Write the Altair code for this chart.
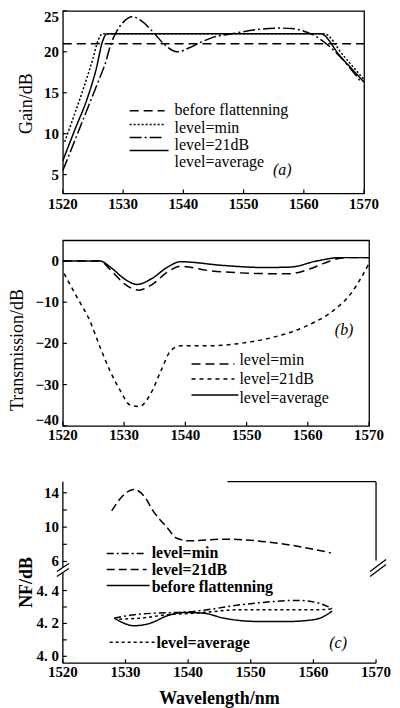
import altair as alt
import pandas as pd

SERIF = "Liberation Serif"

# ---------------- data ----------------
WL_TICKS = [1520, 1530, 1540, 1550, 1560, 1570]

# (a) Gain / dB
A_SERIES = ["before flattenning", "level=min", "level=21dB", "level=average"]
A_W_BEFORE = [1520, 1570]
A_G_BEFORE = [21.0, 21.0]
A_W_MIN = [1520.3, 1522, 1523.5, 1525, 1525.9, 1526.6, 1530, 1540, 1550, 1560, 1563.4, 1566.5, 1570]
A_G_MIN = [9.0, 12.5, 15.7, 19.2, 21.5, 22.2, 22.2, 22.2, 22.2, 22.2, 22.2, 19.6, 16.6]
A_W_21 = [1520, 1522, 1524, 1526, 1527, 1528, 1529, 1530, 1531.5, 1533, 1535, 1537, 1539, 1541,
          1543, 1545, 1548, 1552, 1556, 1558, 1560.5, 1562.2, 1565.5, 1569.4]
A_G_21 = [5.5, 9.2, 12.9, 16.6, 18.5, 21.0, 22.6, 23.6, 24.3, 23.8, 22.4, 20.8, 20.0, 20.5,
          21.2, 21.8, 22.2, 22.7, 22.9, 22.85, 22.4, 21.8, 19.8, 16.4]
A_W_AVG = [1520, 1522, 1524, 1525.5, 1526.6, 1527.3, 1535, 1545, 1555, 1562.8, 1566, 1570]
A_G_AVG = [6.7, 10.5, 14.2, 17.8, 21.3, 22.2, 22.2, 22.2, 22.2, 22.2, 19.5, 16.3]
A_Y_TICKS = [5, 10, 15, 20, 25]

# (b) Transmission / dB
B_SERIES = ["level=min", "level=21dB", "level=average"]
B_W_MIN = [1520, 1526, 1528, 1530, 1532.4, 1534.5, 1537, 1539.2, 1543.6, 1549, 1554.4, 1557,
           1560.4, 1562.6, 1566, 1570]
B_T_MIN = [0, 0, -2.5, -5.5, -7.1, -5.8, -2.8, -1.3, -2.3, -2.9, -3.1, -3.1, -1.9, -0.6, 0.8, 0.8]
B_W_21 = [1520.2, 1522.3, 1524.4, 1526.1, 1527.7, 1529.4, 1531, 1532.5, 1534.3, 1536, 1537.6,
          1539.2, 1543.6, 1549, 1554.4, 1559.9, 1564.2, 1567, 1570]
B_T_21 = [-3.1, -8.8, -14.5, -21.0, -26.7, -31.5, -35.0, -35.3, -32.3, -26.7, -21.8, -20.6,
          -20.6, -20.0, -18.5, -15.7, -12.0, -8.0, -0.6]
B_W_AVG = [1520, 1526, 1528, 1530, 1532.1, 1534.5, 1537, 1539.2, 1546.2, 1552.8, 1557.1, 1561.5,
           1565.3, 1570]
B_T_AVG = [0, 0, -1.8, -4.3, -5.7, -4.3, -1.6, -0.2, -1.1, -1.6, -1.5, 0, 0.8, 0.8]
B_Y_TICKS = [0, -10, -20, -30, -40]

# (c) NF / dB
C_SERIES = ["level=min", "level=21dB", "before flattenning", "level=average"]
C_W_21 = [1527.8, 1529.5, 1531.3, 1533, 1534.4, 1536.6, 1538.2, 1540.3, 1545.7, 1551, 1556.4, 1562.8]
C_NF_21 = [11.9, 13.6, 14.4, 13.6, 11.9, 10.0, 8.7, 8.4, 8.6, 8.4, 7.9, 7.0]
C_W_BEFORE = [1528.2, 1531.4, 1534, 1536.7, 1539.3, 1542.5, 1545.7, 1551, 1556.2, 1560.5, 1563]
C_NF_BEFORE = [4.232, 4.186, 4.202, 4.247, 4.267, 4.262, 4.232, 4.212, 4.212, 4.226, 4.275]
C_W_MIN = [1528.2, 1531.4, 1535, 1539.3, 1543, 1548.3, 1553.6, 1557.3, 1560.5, 1563]
C_NF_MIN = [4.232, 4.253, 4.263, 4.268, 4.283, 4.313, 4.333, 4.34, 4.327, 4.29]
C_W_AVG = [1529, 1532.4, 1536.7, 1541.4, 1548.3, 1555.2, 1560.5, 1563]
C_NF_AVG = [4.226, 4.232, 4.253, 4.263, 4.283, 4.283, 4.283, 4.288]
C_UP_TICKS = [6, 8, 10, 12, 14]
C_UP_LABELS = [6, 10, 14]
C_LO_TICKS = [4.0, 4.1, 4.2, 4.3, 4.4]
C_LO_LABELS = [4.0, 4.2, 4.4]

TITLES = {"a": "Gain/dB", "b": "Transmission/dB", "c": "NF/dB", "x": "Wavelength/nm"}


def long_df(items):
    rows = []
    for name, ws, vs in items:
        for w, v in zip(ws, vs):
            rows.append({"s": name, "w": w, "v": v})
    return pd.DataFrame(rows)


def vals(lst):
    return alt.Data(values=[{"t": t} for t in lst])


ONE = alt.Data(values=[{"k": 0}])

WA, HA = 302, 183
WB, HB = 307, 186
WC, HC = 314, 191
XDOM = alt.Scale(domain=[1520, 1570], nice=False)
LEG = 16
TICKFONT = dict(font=SERIF, fontSize=15, fontWeight="bold", color="black")


def legend_entry(x1, x2, ys, xt, yt, dash, label, weight="normal", size=LEG):
    r = alt.Chart(ONE).mark_rule(stroke="black", strokeWidth=1.5, strokeDash=dash).encode(
        x=alt.value(x1), x2=alt.value(x2), y=alt.value(ys))
    t = alt.Chart(ONE).mark_text(align="left", baseline="middle", font=SERIF, fontSize=size,
                                 fontWeight=weight, text=label, color="black").encode(
        x=alt.value(xt), y=alt.value(yt))
    return [r, t]


def tag(x, y, label):
    return alt.Chart(ONE).mark_text(align="center", baseline="middle", font=SERIF, fontSize=16,
                                    fontStyle="italic", text=label, color="black").encode(
        x=alt.value(x), y=alt.value(y))


def ytitle(x, y, label, weight):
    return alt.Chart(ONE).mark_text(align="center", baseline="middle", angle=270, font=SERIF,
                                    fontSize=18, fontWeight=weight, text=label,
                                    color="black").encode(x=alt.value(x), y=alt.value(y))


def xticks_in(h):
    return alt.Chart(vals(WL_TICKS)).mark_rule(color="black", strokeWidth=1.2).encode(
        x=alt.X("t:Q", scale=XDOM, axis=None), y=alt.value(h), y2=alt.value(h - 4))


def xlabels(h, off):
    return alt.Chart(vals(WL_TICKS)).mark_text(baseline="middle", align="center", **TICKFONT).encode(
        x=alt.X("t:Q", scale=XDOM, axis=None), y=alt.value(h + off),
        text=alt.Text("t:Q", format="d"))


def yticks_in(lst, scale):
    return alt.Chart(vals(lst)).mark_rule(color="black", strokeWidth=1.2).encode(
        y=alt.Y("t:Q", scale=scale, axis=None), x=alt.value(0), x2=alt.value(4))


def ylabels(lst, scale, dy=0, flt=None, fmt="d", expr=None):
    ch = alt.Chart(vals(lst))
    if flt:
        ch = ch.transform_filter(flt)
    if expr:
        ch = ch.transform_calculate(lab=expr)
        txt = alt.Text("lab:N")
    else:
        txt = alt.Text("t:Q", format=fmt)
    return ch.mark_text(align="right", baseline="middle", dy=dy, **TICKFONT).encode(
        y=alt.Y("t:Q", scale=scale, axis=None), x=alt.value(-4), text=txt)


def seg(x1, y1, x2, y2, w=1.3):
    return alt.Chart(ONE).mark_rule(color="black", strokeWidth=w).encode(
        x=alt.value(x1), y=alt.value(y1), x2=alt.value(x2), y2=alt.value(y2))


def lines(df, yscale, dom, rng):
    return alt.Chart(df).mark_line(color="black", strokeWidth=1.5, interpolate="monotone").encode(
        x=alt.X("w:Q", scale=XDOM, axis=None),
        y=alt.Y("v:Q", scale=yscale, axis=None),
        strokeDash=alt.StrokeDash("s:N", scale=alt.Scale(domain=dom, range=rng), legend=None),
        detail="s:N",
    )


# ---------------- panel (a) ----------------
A_DASH = [[9, 5], [2, 2], [12, 3, 2, 3], [1, 0]]
a_df = long_df([(A_SERIES[0], A_W_BEFORE, A_G_BEFORE), (A_SERIES[1], A_W_MIN, A_G_MIN),
                (A_SERIES[2], A_W_21, A_G_21), (A_SERIES[3], A_W_AVG, A_G_AVG)])
a_y = alt.Scale(domain=[2.7, 25], nice=False, zero=False)
a_leg = []
a_leg += legend_entry(67, 102, 100, 112, 99, A_DASH[0], A_SERIES[0])
a_leg += legend_entry(67, 102, 114, 112, 117, A_DASH[1], A_SERIES[1])
a_leg += legend_entry(67, 102, 127, 112, 134, A_DASH[2], A_SERIES[2])
a_leg += legend_entry(67, 106, 140, 112, 151, A_DASH[3], A_SERIES[3])
chart_a = alt.layer(
    lines(a_df, a_y, A_SERIES, A_DASH),
    xticks_in(HA), yticks_in(A_Y_TICKS, a_y), xlabels(HA, 11),
    ylabels(A_Y_TICKS, a_y, flt="datum.t < 25"), ylabels(A_Y_TICKS, a_y, dy=6, flt="datum.t >= 25"),
    ytitle(-36, 93, TITLES["a"], "normal"),
    *a_leg, tag(220, 160, "(a)"),
).properties(width=WA, height=HA)

# ---------------- panel (b) ----------------
B_DASH = [[9, 5], [4, 4], [1, 0]]
b_df = long_df([(B_SERIES[0], B_W_MIN, B_T_MIN), (B_SERIES[1], B_W_21, B_T_21),
                (B_SERIES[2], B_W_AVG, B_T_AVG)])
b_y = alt.Scale(domain=[-40, 5], nice=False, zero=False)
b_leg = []
b_leg += legend_entry(129, 172, 124, 177, 120, B_DASH[0], B_SERIES[0])
b_leg += legend_entry(129, 172, 139, 177, 139, B_DASH[1], B_SERIES[1])
b_leg += legend_entry(129, 176, 155, 177, 158, B_DASH[2], B_SERIES[2])
chart_b = alt.layer(
    lines(b_df, b_y, B_SERIES, B_DASH),
    xticks_in(HB), yticks_in(B_Y_TICKS, b_y), xlabels(HB, 9),
    ylabels(B_Y_TICKS, b_y, flt="datum.t > -40"), ylabels(B_Y_TICKS, b_y, dy=-6, flt="datum.t <= -40"),
    ytitle(-45, 110, TITLES["b"], "normal"),
    *b_leg, tag(282, 90, "(b)"),
).properties(width=WB, height=HB)

# ---------------- panel (c) : broken axis ----------------
C_DASH = [[7, 3, 2, 3], [8, 4], [1, 0], [3, 3]]
c_up_df = long_df([(C_SERIES[1], C_W_21, C_NF_21)])
c_lo_df = long_df([(C_SERIES[0], C_W_MIN, C_NF_MIN), (C_SERIES[2], C_W_BEFORE, C_NF_BEFORE),
                   (C_SERIES[3], C_W_AVG, C_NF_AVG)])
c_up_y = alt.Scale(domain=[5.3, 15.3], range=[95, 9], nice=False, zero=False)
c_lo_y = alt.Scale(domain=[3.958, 4.51], range=[HC, 100], nice=False, zero=False)

c_upper = alt.layer(
    lines(c_up_df, c_up_y, C_SERIES, C_DASH),
    yticks_in(C_UP_TICKS, c_up_y),
    ylabels(C_UP_LABELS, c_up_y),
)
c_lower = alt.layer(
    lines(c_lo_df, c_lo_y, C_SERIES, C_DASH),
    yticks_in(C_LO_TICKS, c_lo_y),
    ylabels(C_LO_LABELS, c_lo_y, expr="replace(format(datum.t, '.1f'), '.', '. ')"),
)
c_frame = [seg(0, 9, 0, 95), seg(0, 100, 0, HC), seg(0, HC, WC, HC),
           seg(165, 9, WC, 9), seg(WC, 9, WC, 88),
           seg(-6, 99, 6, 91), seg(-6, 104, 6, 96),
           seg(WC - 6, 99, WC + 10, 87), seg(WC - 6, 104, WC + 10, 92)]
c_leg = []
c_leg += legend_entry(44, 84, 81, 89, 81, C_DASH[0], C_SERIES[0], "bold")
c_leg += legend_entry(44, 84, 97, 89, 98, C_DASH[1], C_SERIES[1], "bold")
c_leg += legend_entry(44, 87, 113, 89, 115, C_DASH[2], C_SERIES[2], "bold")
c_leg += legend_entry(47, 92, 170, 94, 171, C_DASH[3], C_SERIES[3], "bold")
x_title = alt.Chart(ONE).mark_text(align="center", baseline="middle", font=SERIF, fontSize=18,
                                   fontWeight="bold", text=TITLES["x"], color="black").encode(
    x=alt.value(WC / 2), y=alt.value(HC + 36))

chart_c = alt.layer(
    c_upper, c_lower, *c_frame, xticks_in(HC), xlabels(HC, 9),
    ytitle(-36, 110, TITLES["c"], "bold"), x_title,
    *c_leg, tag(276, 171, "(c)"),
).resolve_scale(y="independent").properties(
    width=WC, height=HC, view=alt.ViewBackground(stroke="transparent"))

chart = alt.vconcat(chart_a, chart_b, chart_c, spacing=47, bounds="flush", padding=0).resolve_scale(
    strokeDash="independent"
).configure_view(stroke="black", strokeWidth=1.3)

chart.save("out.html", embed_options={"renderer": "svg", "actions": False})
